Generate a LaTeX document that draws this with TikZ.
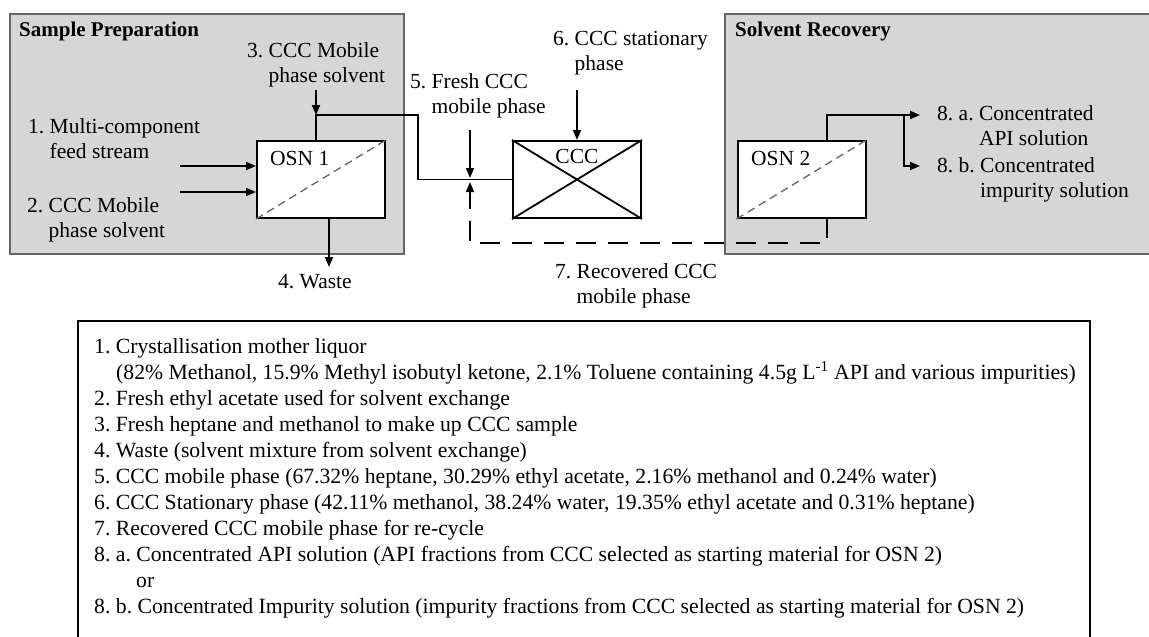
\documentclass[tikz,border=0pt]{standalone}
\usepackage{fontspec}
\setmainfont{Liberation Serif}
\usetikzlibrary{arrows.meta}
\begin{document}
\begin{tikzpicture}[x=1pt,y=-1pt,
  every node/.style={inner sep=0pt},
  lab/.style={font=\fontsize{21.5}{25}\selectfont, anchor=base west},
  hdr/.style={font=\fontsize{21}{24}\selectfont\bfseries, anchor=base west},
  leg/.style={font=\fontsize{21.7}{26}\selectfont, anchor=base west},
  grp/.style={draw=black!60, fill=black!16, line width=1.6pt, anchor=north west},
  unit/.style={draw=black, fill=white, line width=2pt, minimum width=128pt, minimum height=77pt},
  membrane/.style={draw=black!60, line width=1.3pt, dash pattern=on 8pt off 5pt},
  conn/.style={line width=1.8pt},
  tip/.style={-{Triangle[length=10pt,width=8pt]}},
  arr/.style={conn, tip},
  recyc/.style={conn, dash pattern=on 20pt off 12pt},
]
\clip (0,0) rectangle (1149,637);
% groups
\node[grp, minimum width=394pt, minimum height=240pt] (prep) at (9,13) {};
\node[grp, minimum width=440pt, minimum height=240pt] (recov) at (724,13) {};
\node[hdr] (prephdr) at (19,36) {Sample Preparation};
\node[hdr] (recovhdr) at (735,36) {Solvent Recovery};
% units
\node[unit] (osn1) at (321,179.5) {};
\draw[membrane] (osn1.south west) -- (osn1.north east);
\node[lab] (osn1t) at (270,165) {OSN 1};
\node[unit] (ccc) at (577,179.5) {};
\draw[conn] (ccc.south west) -- (ccc.north east) (ccc.north west) -- (ccc.south east);
\node[lab, anchor=base] (ccct) at (577,163) {CCC};
\node[unit] (osn2) at (801.5,179.5) {};
\draw[membrane] (osn2.south west) -- (osn2.north east);
\node[lab] (osn2t) at (751,165) {OSN 2};
% labels
\node[lab] (l1) at (28,133) {\begin{tabular}[t]{@{}l@{\ }l@{}}1. & Multi-component\\ & feed stream\end{tabular}};
\node[lab] (l2) at (27,212) {\begin{tabular}[t]{@{}l@{\ }l@{}}2. & CCC Mobile\\ & phase solvent\end{tabular}};
\node[lab] (l3) at (247,57) {\begin{tabular}[t]{@{}l@{\ }l@{}}3. & CCC Mobile\\ & phase solvent\end{tabular}};
\node[lab] (l4) at (278,288) {4.\ Waste};
\node[lab] (l5) at (410,88) {\begin{tabular}[t]{@{}l@{\ }l@{}}5. & Fresh CCC\\ & mobile phase\end{tabular}};
\node[lab] (l6) at (553,45) {\begin{tabular}[t]{@{}l@{\ }l@{}}6. & CCC stationary\\ & phase\end{tabular}};
\node[lab] (l7) at (555,278) {\begin{tabular}[t]{@{}l@{\ }l@{}}7. & Recovered CCC\\ & mobile phase\end{tabular}};
\node[lab] (l8a) at (937,120) {\begin{tabular}[t]{@{}l@{\ }l@{}}8.\ a. & Concentrated\\ & API solution\end{tabular}};
\node[lab] (l8b) at (937,172) {\begin{tabular}[t]{@{}l@{\ }l@{}}8.\ b. & Concentrated\\ & impurity solution\end{tabular}};
% coordinates
\coordinate (in1) at (180,166);
\coordinate (in2) at (180,192);
\coordinate (s3) at (316,90);
\coordinate (j3) at (316,115);
\coordinate (b1) at (418,115);
\coordinate (b2) at (418,179.5);
\coordinate (mj) at (470,179.5);
\coordinate (s5) at (470,130);
\coordinate (s6) at (577,90);
\coordinate (w4) at (329,267);
\coordinate (r1) at (827,238);
\coordinate (r2) at (820,243);
\coordinate (r3) at (470,243);
\coordinate (o1) at (827,115);
\coordinate (o2) at (904,115);
\coordinate (t8a) at (920,115);
\coordinate (t8b) at (920,166);
% connectors
\draw[arr] (in1) -- (in1 -| osn1.west);
\draw[arr] (in2) -- (in2 -| osn1.west);
\draw[arr] (s3) -- (j3);
\draw[conn] ([xshift=-5pt]osn1.north) -- (j3) -- (b1) -- (b2) -- (ccc.west);
\draw[arr] (s5) -- ([yshift=1.5pt]mj);
\draw[arr] (s6) -- (ccc.north);
\draw[arr] ([xshift=8pt]osn1.south) -- (w4);
\draw[conn] ([xshift=25.5pt]osn2.south) -- (r1);
\draw[recyc, tip] (r2) -- (r3) -- ([yshift=-2.5pt]mj);
\draw[conn] ([xshift=25.5pt]osn2.north) -- (o1) -- (o2);
\draw[arr] (o2) -- (t8a);
\draw[arr] (o2) |- (t8b);
% legend
\node[draw, line width=1.8pt, anchor=north west, minimum width=1012pt, minimum height=340pt] (legend) at (77,320) {};
\node[leg] (g1) at (94,353) {1.\ Crystallisation mother liquor};
\node[leg] (g2) at (116,379) {(82\% Methanol, 15.9\% Methyl isobutyl ketone, 2.1\% Toluene containing 4.5g L\textsuperscript{-1} API and various impurities)};
\node[leg] (g3) at (94,405) {2.\ Fresh ethyl acetate used for solvent exchange};
\node[leg] (g4) at (94,431) {3.\ Fresh heptane and methanol to make up CCC sample};
\node[leg] (g5) at (94,457) {4.\ Waste (solvent mixture from solvent exchange)};
\node[leg] (g6) at (94,483) {5.\ CCC mobile phase (67.32\% heptane, 30.29\% ethyl acetate, 2.16\% methanol and 0.24\% water)};
\node[leg] (g7) at (94,509) {6.\ CCC Stationary phase (42.11\% methanol, 38.24\% water, 19.35\% ethyl acetate and 0.31\% heptane)};
\node[leg] (g8) at (94,535) {7.\ Recovered CCC mobile phase for re-cycle};
\node[leg] (g9) at (94,561) {8.\ a.\ Concentrated API solution (API fractions from CCC selected as starting material for OSN 2)};
\node[leg] (g10) at (136,587) {or};
\node[leg] (g11) at (94,613) {8.\ b.\ Concentrated Impurity solution (impurity fractions from CCC selected as starting material for OSN 2)};
\end{tikzpicture}
\end{document}
